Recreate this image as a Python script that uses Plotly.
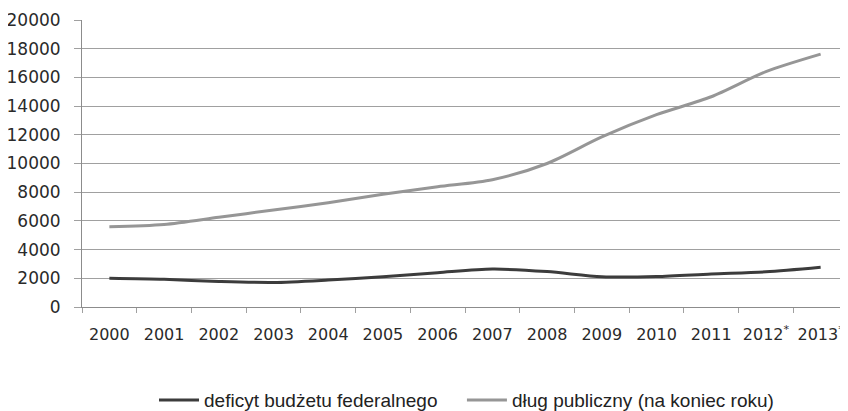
import plotly.graph_objects as go

years = ["2000", "2001", "2002", "2003", "2004", "2005", "2006", "2007",
         "2008", "2009", "2010", "2011", "2012<sup>*</sup>", "2013<sup>*</sup>"]
deficyt = [2000, 1930, 1780, 1710, 1880, 2110, 2390, 2640, 2470, 2110, 2120, 2300, 2450, 2770]
dlug = [5600, 5750, 6250, 6760, 7270, 7860, 8380, 8870, 10000, 11850, 13400, 14650, 16400, 17620]

y_ticks = list(range(0, 20001, 2000))
y_labels = [str(v) for v in y_ticks]

fig = go.Figure()
fig.add_trace(go.Scatter(
    x=years, y=deficyt, name="deficyt budżetu federalnego", mode="lines",
    line=dict(color="#3c3c3c", width=3, shape="spline", smoothing=0.8),
    legend="legend",
))
fig.add_trace(go.Scatter(
    x=years, y=dlug, name="dług publiczny (na koniec roku)", mode="lines",
    line=dict(color="#969696", width=3, shape="spline", smoothing=0.8),
    legend="legend2",
))

legend_font = dict(family="Liberation Sans, Arial, sans-serif", size=19, color="#222222")

fig.update_layout(
    width=840, height=403,
    margin=dict(l=74, r=0, t=12, b=104, autoexpand=False),
    paper_bgcolor="white", plot_bgcolor="white",
    showlegend=True,
    legend=dict(
        orientation="h", x=0.094, xanchor="left", y=-0.258, yanchor="top",
        font=legend_font, itemwidth=40,
    ),
    legend2=dict(
        orientation="h", x=0.496, xanchor="left", y=-0.258, yanchor="top",
        font=legend_font, itemwidth=40,
    ),
    font=dict(family="DejaVu Sans, Verdana, sans-serif", size=17, color="#2a2a2a"),
)
fig.update_xaxes(
    type="category", range=[-0.5, 13.5], showgrid=False, showline=True,
    linecolor="#8c8c8c", linewidth=1,
    ticks="outside", ticklen=5, tickcolor="#a0a0a0", tickson="boundaries",
    tickangle=0, automargin=False,
    tickfont=dict(family="DejaVu Sans, Verdana, sans-serif", size=16, color="#2a2a2a"),
    ticklabelstandoff=13, fixedrange=True,
)
fig.update_yaxes(
    range=[0, 20000], tickvals=y_ticks, ticktext=y_labels, showgrid=True,
    gridcolor="#a0a0a0", gridwidth=1, automargin=False,
    showline=True, linecolor="#8c8c8c", linewidth=1, zeroline=False,
    ticks="outside", ticklen=7, tickcolor="#a0a0a0",
    tickfont=dict(family="DejaVu Sans, Verdana, sans-serif", size=17, color="#2a2a2a"),
    ticklabelstandoff=10, fixedrange=True,
)

fig.write_html("out.html")
